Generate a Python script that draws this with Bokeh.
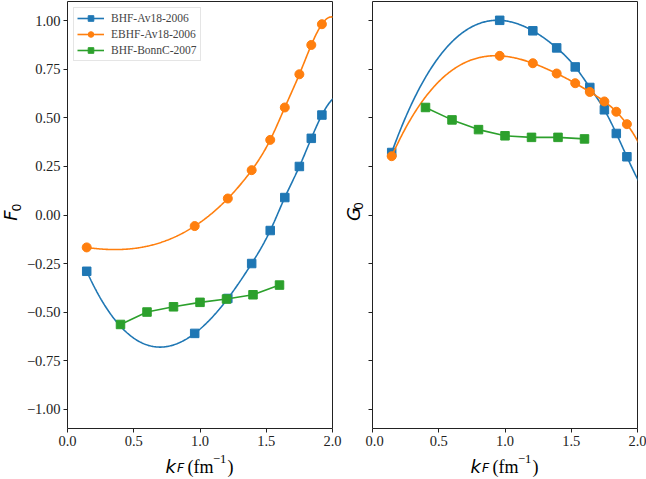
import numpy as np
from bokeh.plotting import figure
from bokeh.layouts import row, column
from bokeh.models import Legend, LegendItem, FixedTicker, Range1d
from bokeh.core.properties import value
from bokeh.embed import file_html
from bokeh.resources import INLINE

# ---------------- data ----------------
kf_av18 = [0.145, 0.96, 1.21, 1.39, 1.53, 1.64, 1.75, 1.84, 1.92]
f0_bhf_av18 = [-0.29, -0.61, -0.43, -0.25, -0.08, 0.09, 0.25, 0.395, 0.515]
f0_ebhf_av18 = [-0.167, -0.057, 0.085, 0.231, 0.387, 0.554, 0.725, 0.876, 0.983]
g0_bhf_av18 = [0.322, 1.003, 0.949, 0.861, 0.763, 0.657, 0.542, 0.42, 0.30]
g0_ebhf_av18 = [0.303, 0.82, 0.782, 0.729, 0.679, 0.634, 0.585, 0.532, 0.468]

kf_bonnc = [0.4, 0.6, 0.8, 1.0, 1.2, 1.4, 1.6]
f0_bhf_bonnc = [-0.564, -0.50, -0.473, -0.45, -0.433, -0.411, -0.361]
g0_bhf_bonnc = [0.554, 0.49, 0.44, 0.408, 0.40, 0.40, 0.392]

series_names = ["BHF-Av18-2006", "EBHF-Av18-2006", "BHF-BonnC-2007"]
colors = ["#1f77b4", "#ff7f0e", "#2ca02c"]

y_ticks = [-1.0, -0.75, -0.5, -0.25, 0.0, 0.25, 0.5, 0.75, 1.0]
x_ticks = [0.0, 0.5, 1.0, 1.5, 2.0]

SERIF = "Liberation Serif"
SANS = "DejaVu Sans"

W, H = 646, 479
PLOT_H = 453  # height of the plot row; the x-label strip takes the rest


def spline_curve(x, y, x_end=2.05, n=300):
    """Not-a-knot cubic spline through the data points (extended to the axis edge)."""
    x = np.asarray(x, float)
    y = np.asarray(y, float)
    N = len(x)
    h = np.diff(x)
    A = np.zeros((N, N))
    b = np.zeros(N)
    A[0, 0], A[0, 1], A[0, 2] = -h[1], h[0] + h[1], -h[0]
    for i in range(1, N - 1):
        A[i, i - 1] = h[i - 1]
        A[i, i] = 2 * (h[i - 1] + h[i])
        A[i, i + 1] = h[i]
        b[i] = 6 * ((y[i + 1] - y[i]) / h[i] - (y[i] - y[i - 1]) / h[i - 1])
    A[-1, -3], A[-1, -2], A[-1, -1] = -h[-1], h[-1] + h[-2], -h[-2]
    M = np.linalg.solve(A, b)
    xs = np.linspace(x[0], x_end, n)
    i = np.clip(np.searchsorted(x, xs) - 1, 0, N - 2)
    hi = h[i]
    a = x[i + 1] - xs
    c = xs - x[i]
    ys = (M[i] * a ** 3 / (6 * hi) + M[i + 1] * c ** 3 / (6 * hi)
          + (y[i] / hi - M[i] * hi / 6) * a + (y[i + 1] / hi - M[i + 1] * hi / 6) * c)
    return xs, ys


def make_fig(width, bl, br, show_ylabels):
    p = figure(width=width, height=PLOT_H, x_range=Range1d(0, 2), y_range=Range1d(-1.1, 1.1),
               output_backend="svg", toolbar_location=None,
               min_border_left=bl, min_border_right=br, min_border_top=1, min_border_bottom=25)
    p.grid.visible = False
    p.outline_line_color = "#222222"
    p.outline_line_width = 1
    p.background_fill_color = "white"
    p.border_fill_color = "white"
    for ax in (p.xaxis[0], p.yaxis[0]):
        ax.axis_line_color = None
        ax.major_tick_out = 4
        ax.major_tick_in = 0
        ax.minor_tick_out = 0
        ax.minor_tick_in = 0
        ax.major_tick_line_color = "#222222"
        ax.major_label_text_font = SERIF
        ax.major_label_text_font_size = "14.5px"
        ax.major_label_text_color = "#222222"
        ax.major_label_standoff = 3
    p.xaxis.ticker = FixedTicker(ticks=x_ticks)
    p.yaxis.ticker = FixedTicker(ticks=y_ticks)
    p.xaxis.major_label_overrides = {t: f"{t:.1f}" for t in x_ticks}
    if show_ylabels:
        p.yaxis.major_label_overrides = {t: f"{t:.2f}".replace("-", "\u2212") for t in y_ticks}
    else:
        p.yaxis.major_label_overrides = {t: "" for t in y_ticks}
        p.yaxis.major_label_standoff = 0
    return p


def blank_fig(width, height):
    p = figure(width=width, height=height, x_range=Range1d(0, width), y_range=Range1d(0, height),
               output_backend="svg", toolbar_location=None,
               min_border_left=0, min_border_right=0, min_border_top=0, min_border_bottom=0)
    p.axis.visible = False
    p.grid.visible = False
    p.outline_line_color = None
    p.background_fill_color = "white"
    p.border_fill_color = "white"
    return p


def ylabel_fig(width, letter, x, y):
    # x, y: canvas position (from top-left of this strip) of the letter's centre
    p = blank_fig(width, PLOT_H)
    p.text(x=[x], y=[PLOT_H - y], text=[letter], angle=np.pi / 2,
           text_font=value(SANS), text_font_style="italic", text_font_size="18px",
           text_align="center", text_baseline="middle", text_color="black")
    p.text(x=[x + 5.5], y=[PLOT_H - y + 8.5], text=["0"], angle=np.pi / 2,
           text_font=value(SANS), text_font_size="12.5px",
           text_align="center", text_baseline="middle", text_color="black")
    return p


def xlabel_fig():
    h = H - PLOT_H
    p = blank_fig(W, h)
    pieces = [
        ("k", 0, 0, SANS, "italic", "18px"),
        ("F", 11.5, -1, SANS, "italic", "12.5px"),
        ("(fm", 22, 0, SERIF, "normal", "18px"),
        ("\u22121", 47.5, 8, SERIF, "normal", "12.5px"),
        (")", 62, 0, SERIF, "normal", "18px"),
    ]
    base_y = H - 473 + 7  # baseline, in strip coordinates
    for start in (165, 470):
        for txt, dx, dy, font, style, size in pieces:
            p.text(x=[start + dx], y=[base_y + dy], text=[txt],
                   text_font=value(font), text_font_style=style, text_font_size=size,
                   text_align="left", text_baseline="alphabetic", text_color="black")
    return p


def draw_panel(p, f_bhf, f_ebhf, f_bonnc):
    items = []
    xs, ys = spline_curve(kf_av18, f_bhf)
    l1 = p.line(xs, ys, line_color=colors[0], line_width=1.6)
    s1 = p.scatter(kf_av18, f_bhf, marker="square", size=8.5, fill_color=colors[0], line_color=colors[0])
    items.append(LegendItem(label=series_names[0], renderers=[l1, s1]))
    xs, ys = spline_curve(kf_av18, f_ebhf)
    l2 = p.line(xs, ys, line_color=colors[1], line_width=1.6)
    s2 = p.scatter(kf_av18, f_ebhf, marker="circle", size=9, fill_color=colors[1], line_color=colors[1])
    items.append(LegendItem(label=series_names[1], renderers=[l2, s2]))
    l3 = p.line(kf_bonnc, f_bonnc, line_color=colors[2], line_width=1.6)
    s3 = p.scatter(kf_bonnc, f_bonnc, marker="square", size=8.5, fill_color=colors[2], line_color=colors[2])
    items.append(LegendItem(label=series_names[2], renderers=[l3, s3]))
    return items


# left strip (22) + left plot (320) + middle strip (23) + right plot (281) = 646
labF = ylabel_fig(22, "F", 10, 227)
p1 = make_fig(320, 45, 10, True)
items = draw_panel(p1, f0_bhf_av18, f0_ebhf_av18, f0_bhf_bonnc)
legend = Legend(items=items, location="top_left", margin=6, padding=3, spacing=2,
                label_text_font=SERIF, label_text_font_size="11.5px", label_standoff=7,
                glyph_width=27, glyph_height=14, label_height=14,
                border_line_color="#cccccc", border_line_width=1,
                background_fill_color="white", background_fill_alpha=0.85)
p1.add_layout(legend)

labG = ylabel_fig(23, "G", 10.5, 225.5)
p2 = make_fig(281, 7, 9, False)
draw_panel(p2, g0_bhf_av18, g0_ebhf_av18, g0_bhf_bonnc)

layout = column(row(labF, p1, labG, p2), xlabel_fig())
open("out.html", "w").write(file_html(layout, INLINE))
